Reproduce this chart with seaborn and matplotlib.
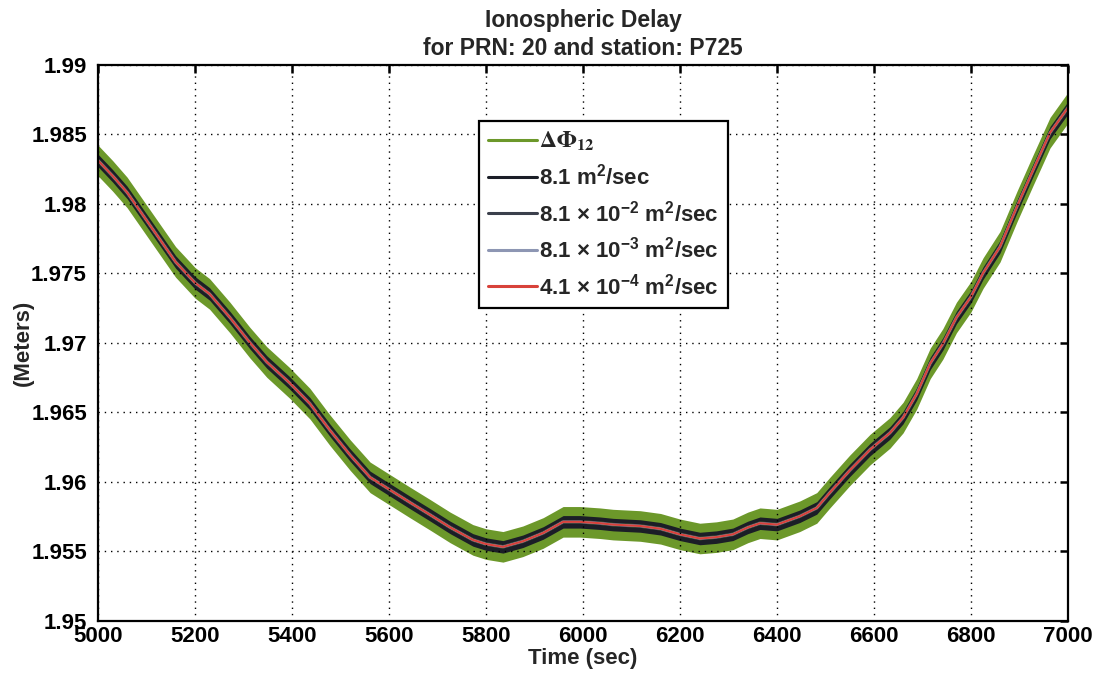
import numpy as np
import pandas as pd
import matplotlib
matplotlib.use("Agg")
import matplotlib.pyplot as plt
import seaborn as sns

# ---- data ----
time_sec = [5000, 5030, 5060, 5100, 5128, 5160, 5200, 5230, 5272, 5313, 5348,
            5395, 5437, 5478, 5520, 5561, 5602, 5643, 5685, 5726, 5773, 5800,
            5835, 5876, 5918, 5959, 5994, 6035, 6062, 6118, 6160, 6200, 6241,
            6275, 6309, 6340, 6365, 6400, 6447, 6482, 6509, 6550, 6592, 6633,
            6660, 6688, 6716, 6742, 6770, 6800, 6825, 6860, 6895, 6928, 6963,
            7000]
delay_m = [1.9831, 1.9820, 1.9808, 1.9788, 1.9774, 1.9758, 1.9743, 1.9735,
           1.9718, 1.9700, 1.9686, 1.9671, 1.9656, 1.9637, 1.9619, 1.9603,
           1.9594, 1.9585, 1.9576, 1.9567, 1.9558, 1.9555, 1.9553, 1.9557,
           1.9563, 1.9571, 1.9571, 1.9570, 1.9569, 1.9568, 1.9566, 1.9562,
           1.9559, 1.9560, 1.9562, 1.9567, 1.9570, 1.9569, 1.9575, 1.9581,
           1.9592, 1.9608, 1.9623, 1.9635, 1.9646, 1.9663, 1.9685, 1.9699,
           1.9718, 1.9733, 1.9750, 1.9769, 1.9798, 1.9824, 1.9851, 1.9869]
green_half_width = 0.0011   # half spread of the noisy ΔΦ12 band
black_half_width = 0.00045  # half spread of the 8.1 m^2/sec estimate

labels = [r"$\Delta\Phi_{12}$",
          r"8.1 m$^{2}$/sec",
          r"8.1 × 10$^{-2}$ m$^{2}$/sec",
          r"8.1 × 10$^{-3}$ m$^{2}$/sec",
          r"4.1 × 10$^{-4}$ m$^{2}$/sec"]
colors = ["#6c982a", "#1b1e27", "#3b404c", "#8d96b3", "#d8423a"]

x_ticks = list(range(5000, 7001, 200))
y_ticks = [1.95, 1.955, 1.96, 1.965, 1.97, 1.975, 1.98, 1.985, 1.99]
y_tick_labels = ["1.95", "1.955", "1.96", "1.965", "1.97", "1.975", "1.98", "1.985", "1.99"]

# ---- styling ----
sns.set_style("white")
plt.rcParams["font.family"] = ["Liberation Sans", "DejaVu Sans"]
plt.rcParams["font.weight"] = "bold"
plt.rcParams["mathtext.fontset"] = "custom"
plt.rcParams["mathtext.rm"] = "Liberation Sans:bold"
plt.rcParams["mathtext.it"] = "Liberation Sans:bold"
plt.rcParams["mathtext.bf"] = "Liberation Sans:bold"
plt.rcParams["mathtext.default"] = "rm"

fig = plt.figure(figsize=(10.94, 6.73), dpi=100)
ax = fig.add_axes([0.0896, 0.078, 0.8866, 0.826])

t = np.array(time_sec)
c = np.array(delay_m)

# green noisy band (min/max interval of envelope observations)
df_g = pd.DataFrame({"t": np.concatenate([t, t]),
                     "y": np.concatenate([c + green_half_width, c - green_half_width])})
sns.lineplot(data=df_g, x="t", y="y", estimator="mean", errorbar=("pi", 100),
             color=colors[0], lw=2.5, err_kws={"alpha": 1, "linewidth": 0},
             ax=ax, label=labels[0], legend=False)
# black noisy band
df_b = pd.DataFrame({"t": np.concatenate([t, t]),
                     "y": np.concatenate([c + black_half_width, c - black_half_width])})
sns.lineplot(data=df_b, x="t", y="y", estimator="mean", errorbar=("pi", 100),
             color=colors[1], lw=2.5, err_kws={"alpha": 1, "linewidth": 0},
             ax=ax, label=labels[1], legend=False)
sns.lineplot(x=t, y=c, color=colors[2], lw=2.2, ax=ax, label=labels[2], legend=False)
sns.lineplot(x=t, y=c, color=colors[3], lw=1.8, ax=ax, label=labels[3], legend=False)
sns.lineplot(x=t, y=c, color=colors[4], lw=1.5, ax=ax, label=labels[4], legend=False)

ax.set_xlim(5000, 7000)
ax.set_ylim(1.95, 1.99)
ax.set_xticks(x_ticks)
ax.set_xticklabels([str(v) for v in x_ticks])
ax.set_yticks(y_ticks)
ax.set_yticklabels(y_tick_labels)
ax.tick_params(direction="in", length=6, width=1.8, top=True, right=True,
               labelsize=16, pad=4, colors="black")
ax.tick_params(axis="y", pad=8)
for lab in ax.get_xticklabels() + ax.get_yticklabels():
    lab.set_fontweight("bold")
for sp in ax.spines.values():
    sp.set_linewidth(1.6)
    sp.set_color("black")
ax.grid(True, color="black", linestyle=(0, (1, 3.5)), linewidth=1.0)
ax.set_axisbelow(False)

ax.set_xlabel("Time (sec)", fontsize=16, fontweight="bold", labelpad=1)
ax.set_ylabel("(Meters)", fontsize=16, fontweight="bold", labelpad=-2)
ax.set_title("Ionospheric Delay\nfor PRN: 20 and station: P725",
             fontsize=16.5, fontweight="bold", pad=7, linespacing=1.25)

handles = [l for l in ax.get_lines() if l.get_label() in labels]
leg = ax.legend(handles=handles, labels=[h.get_label() for h in handles],
                loc="upper left", bbox_to_anchor=(0.393, 0.899),
                fontsize=16, frameon=True, fancybox=False, framealpha=1,
                edgecolor="black", handlelength=2.2, handletextpad=0.1,
                labelspacing=0.48, borderpad=0.4, borderaxespad=0)
leg.get_frame().set_linewidth(1.6)
for h in leg.legend_handles:
    h.set_linewidth(2.2)
txts = leg.get_texts()
txts[0].set_math_fontfamily("stix")
txts[0].set_fontsize(17)

fig.savefig("out.png", dpi=100)
